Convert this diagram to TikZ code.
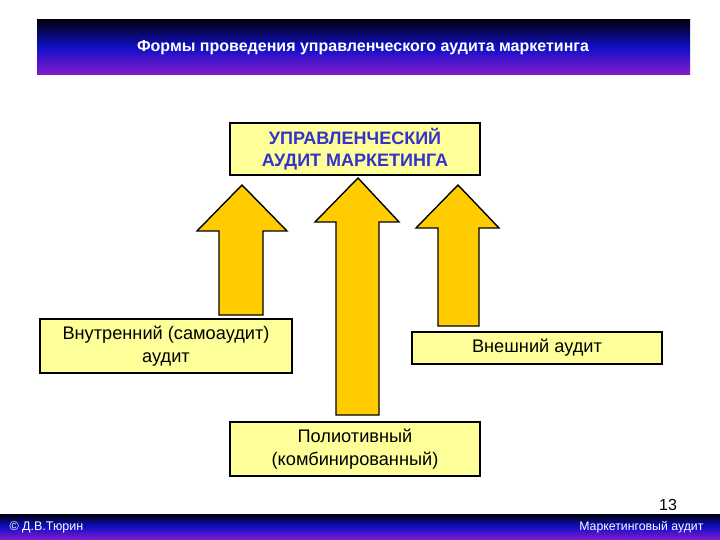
\documentclass[tikz,border=0pt]{standalone}
\usepackage{fontspec}
\setmainfont{Liberation Sans}
\begin{document}
\begin{tikzpicture}[x=1pt,y=-1pt,
  box/.style={draw=black,line width=1.6pt,fill=boxyellow,inner sep=0pt,align=center,font=\fontsize{18.2}{23}\selectfont},
  uparrow/.style={draw=black,line width=1.4pt,fill=arrowgold,line join=miter},
  band/.style={top color=bandtop,bottom color=bandbot,middle color=bandmid}]
\definecolor{boxyellow}{HTML}{FFFF99}
\definecolor{arrowgold}{HTML}{FFCC00}
\definecolor{titleblue}{HTML}{3333CC}
\definecolor{bandtop}{HTML}{000010}
\definecolor{bandmid}{HTML}{1010C8}
\definecolor{bandbot}{HTML}{8A1ACC}
\useasboundingbox (0,0) rectangle (720,540);
\fill[white] (0,0) rectangle (720,540);
% header band
\shade[band] (37,20) rectangle (690,75);
\node[text=white,font=\fontsize{16}{18}\selectfont\bfseries] (title) at (363,48) {Формы проведения управленческого аудита маркетинга};
% boxes
\node[box,minimum width=250pt,minimum height=52pt,text=titleblue,font=\fontsize{18}{22}\selectfont\bfseries] (top) at (355,149) {УПРАВЛЕНЧЕСКИЙ\\АУДИТ МАРКЕТИНГА};
\node[box,minimum width=252pt,minimum height=54pt] (left) at (166,346) {Внутренний (самоаудит)\\аудит};
\node[box,minimum width=250pt,minimum height=32pt] (right) at (537,348) {Внешний аудит};
\node[box,minimum width=250pt,minimum height=54pt] (bottom) at (355,449) {Полиотивный\\(комбинированный)};
% arrows
\draw[uparrow] (219,315) -- (219,231) -- (197,231) -- (242,185) -- (287,231) -- (263,231) -- (263,315) -- cycle;
\draw[uparrow] (336,415) -- (336,222) -- (315,222) -- (358,178) -- (399,222) -- (379,222) -- (379,415) -- cycle;
\draw[uparrow] (438,326) -- (438,228) -- (416,228) -- (458,185) -- (499,228) -- (479,228) -- (479,326) -- cycle;
% page number
\node[font=\fontsize{16}{18}\selectfont] (pnum) at (668,505) {13};
% footer band
\shade[band] (0,514) rectangle (720,540);
\node[text=white,anchor=west,font=\fontsize{12.5}{14}\selectfont] (author) at (6,527) {© Д.В.Тюрин};
\node[text=white,anchor=east,font=\fontsize{12.3}{14}\selectfont] (ftitle) at (707,527) {Маркетинговый аудит};
\end{tikzpicture}
\end{document}
